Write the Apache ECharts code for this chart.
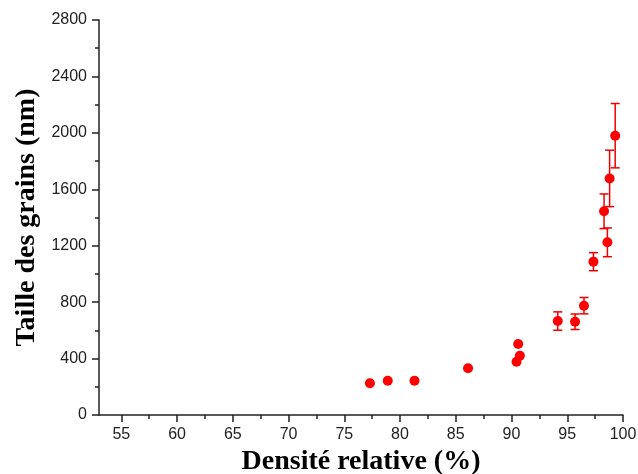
<!DOCTYPE html>
<html>
<head>
<meta charset="utf-8">
<script src="https://cdn.jsdelivr.net/npm/echarts@6/dist/echarts.min.js"></script>
<style>html,body{margin:0;padding:0;background:#fff}#c{width:638px;height:474px}</style>
</head>
<body>
<div id="c"></div>
<script>
var density = [77.3, 78.9, 81.3, 86.1, 90.45, 90.75, 90.6, 94.15, 95.7, 96.5, 97.35, 98.6, 98.3, 98.8, 99.3];
var grainSize = [225, 243, 243, 331, 378, 420, 503, 666, 661, 775, 1087, 1224, 1444, 1677, 1980];
var grainErr = [0, 0, 0, 0, 0, 0, 0, 65, 55, 58, 64, 102, 123, 200, 228];
var xMajorTicks = [55, 60, 65, 70, 75, 80, 85, 90, 95, 100];
var xMinorTicks = [57.5, 62.5, 67.5, 72.5, 77.5, 82.5, 87.5, 92.5, 97.5];

var points = density.map(function (d, i) { return [d, grainSize[i]]; });
var bars = density.map(function (d, i) { return [d, grainSize[i] - grainErr[i], grainSize[i] + grainErr[i]]; })
  .filter(function (b, i) { return grainErr[i] > 0; });

var chart = echarts.init(document.getElementById('c'));
var axisCol = '#222';
var labelStyle = { color: '#222', fontSize: 16, fontFamily: 'Liberation Sans, Arial, sans-serif' };
var nameStyle = { color: '#000', fontSize: 28, fontWeight: 'bold', fontFamily: 'Liberation Serif, Times New Roman, serif' };

chart.setOption({
  animation: false,
  grid: { left: 99, right: 15, top: 20, bottom: 59, containLabel: false, outerBoundsMode: 'none' },
  xAxis: [{
    type: 'value', min: 53, max: 100,
    name: 'Densité relative (%)', nameLocation: 'middle', nameGap: 30, nameTextStyle: nameStyle,
    axisLine: { show: true, onZero: false, lineStyle: { color: axisCol, width: 1.5 } },
    axisTick: { show: true, length: 7, lineStyle: { color: axisCol, width: 1.5 }, customValues: xMajorTicks },
    axisLabel: Object.assign({ margin: 12, customValues: xMajorTicks }, labelStyle),
    splitLine: { show: false }
  }, {
    type: 'value', min: 53, max: 100, position: 'bottom',
    axisLine: { show: false, onZero: false },
    axisTick: { show: true, length: 4, lineStyle: { color: axisCol, width: 1.5 }, customValues: xMinorTicks },
    axisLabel: { show: false },
    splitLine: { show: false }
  }],
  yAxis: {
    type: 'value', min: 0, max: 2800, interval: 400,
    name: 'Taille des grains (nm)', nameLocation: 'middle', nameGap: 58, nameTextStyle: nameStyle,
    axisLine: { show: true, onZero: false, lineStyle: { color: axisCol, width: 1.5 } },
    axisTick: { show: true, length: 7, lineStyle: { color: axisCol, width: 1.5 } },
    minorTick: { show: true, splitNumber: 2, length: 4, lineStyle: { color: axisCol, width: 1.5 } },
    axisLabel: Object.assign({ margin: 12, formatter: function (v) { return String(v); } }, labelStyle),
    splitLine: { show: false }
  },
  series: [{
    type: 'custom',
    xAxisIndex: 0,
    data: bars,
    z: 2,
    renderItem: function (params, api) {
      var x = api.value(0);
      var lo = api.coord([x, api.value(1)]);
      var hi = api.coord([x, api.value(2)]);
      var hw = 4.5;
      var st = { stroke: '#e00', lineWidth: 1.5 };
      return {
        type: 'group',
        children: [
          { type: 'line', shape: { x1: lo[0], y1: lo[1], x2: hi[0], y2: hi[1] }, style: st },
          { type: 'line', shape: { x1: lo[0] - hw, y1: lo[1], x2: lo[0] + hw, y2: lo[1] }, style: st },
          { type: 'line', shape: { x1: hi[0] - hw, y1: hi[1], x2: hi[0] + hw, y2: hi[1] }, style: st }
        ]
      };
    }
  }, {
    type: 'scatter',
    xAxisIndex: 0,
    data: points,
    symbol: 'circle',
    symbolSize: 10,
    z: 3,
    itemStyle: { color: '#ff0000', opacity: 1 }
  }]
});
</script>
</body>
</html>
